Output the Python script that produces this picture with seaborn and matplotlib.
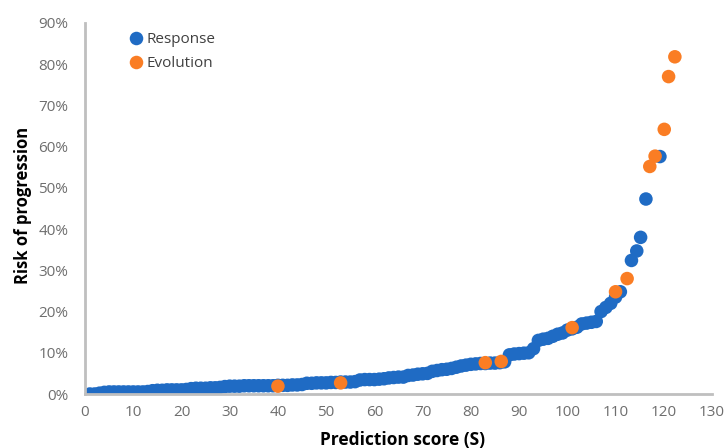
import matplotlib
matplotlib.use("Agg")
import matplotlib.pyplot as plt
from matplotlib.ticker import FuncFormatter, MultipleLocator
import pandas as pd
import seaborn as sns

# Response group: prediction score S and risk of progression (%)
response_score = [
    1, 2, 3, 4, 5, 6, 7, 8, 9, 10, 11, 12, 13, 14, 15, 16, 17, 18, 19, 20,
    21, 22, 23, 24, 25, 26, 27, 28, 29, 30, 31, 32, 33, 34, 35, 36, 37, 38, 39, 40,
    41, 42, 43, 44, 45, 46, 47, 48, 49, 50, 51, 52, 53, 54, 55, 56, 57, 58, 59, 60,
    61, 62, 63, 64, 65, 66, 67, 68, 69, 70, 71, 72, 73, 74, 75, 76, 77, 78, 79, 80,
    81, 82, 83, 84, 85, 86, 87, 88, 89, 90, 91, 92, 93, 94, 95, 96, 97, 98, 99, 100,
    101, 102, 103, 104, 105, 106, 107, 108, 109, 110, 111, 113.3, 114.4, 115.2, 116.3, 119.2,
]
response_risk = [
    0.0, 0.0, 0.2, 0.4, 0.5, 0.5, 0.5, 0.5, 0.5, 0.5, 0.5, 0.5, 0.6, 0.8, 0.9, 0.9, 1.0, 1.0, 1.0, 1.0,
    1.1, 1.3, 1.4, 1.4, 1.4, 1.5, 1.5, 1.6, 1.8, 1.9, 1.9, 1.9, 2.0, 2.0, 2.0, 2.0, 2.0, 2.0, 2.0, 2.1,
    2.1, 2.1, 2.2, 2.2, 2.3, 2.6, 2.6, 2.7, 2.7, 2.7, 2.8, 2.8, 2.9, 2.9, 2.9, 3.0, 3.4, 3.5, 3.5, 3.5,
    3.6, 3.7, 3.9, 4.0, 4.1, 4.1, 4.5, 4.6, 4.8, 4.9, 5.0, 5.5, 5.7, 5.9, 6.0, 6.2, 6.5, 6.8, 7.0, 7.2,
    7.3, 7.4, 7.4, 7.5, 7.5, 7.6, 7.8, 9.5, 9.7, 9.8, 9.9, 10.0, 11.0, 13.0, 13.3, 13.5, 14.0, 14.5, 14.8, 15.5,
    15.8, 16.2, 17.0, 17.2, 17.4, 17.6, 20.0, 21.0, 22.0, 23.5, 24.8, 32.4, 34.7, 38.0, 47.3, 57.6,
]

# Evolution group
evolution_score = [40, 53, 83, 86.3, 101, 110, 112.4, 117.1, 118.2, 120.1, 121, 122.3]
evolution_risk = [1.9, 2.7, 7.6, 7.9, 16.1, 24.8, 28.0, 55.2, 57.7, 64.2, 77.0, 81.8]

groups = ["Response", "Evolution"]
palette = {"Response": "#1F6BC4", "Evolution": "#FA7D24"}

df = pd.DataFrame({
    "score": response_score + evolution_score,
    "risk": [r / 100 for r in response_risk + evolution_risk],
    "group": ["Response"] * len(response_score) + ["Evolution"] * len(evolution_score),
})

sns.set_theme(style="white")
plt.rcParams["font.family"] = ["Open Sans", "DejaVu Sans"]

fig = plt.figure(figsize=(7.26, 4.48), dpi=100)
ax = fig.add_axes([85 / 726, 1 - 394 / 448, 627 / 726, 371 / 448])

sns.scatterplot(
    data=df, x="score", y="risk", hue="group", hue_order=groups,
    palette=palette, s=95, linewidth=0, alpha=1.0, ax=ax, legend=True,
)

ax.set_xlim(0, 130)
ax.set_ylim(0, 0.9)
ax.xaxis.set_major_locator(MultipleLocator(10))
ax.yaxis.set_major_locator(MultipleLocator(0.1))
ax.yaxis.set_major_formatter(FuncFormatter(lambda v, _: f"{v * 100:.0f}%"))

for side in ("top", "right"):
    ax.spines[side].set_visible(False)
for side in ("left", "bottom"):
    ax.spines[side].set_color("#BFBFBF")
    ax.spines[side].set_linewidth(2.0)

ax.tick_params(axis="both", length=0, labelsize=11, labelcolor="#6E6E6E")
ax.tick_params(axis="x", pad=8)
ax.tick_params(axis="y", pad=12)

ax.set_xlabel("Prediction score (S)", fontsize=12.5, fontweight="bold", color="black")
ax.set_ylabel("Risk of progression", fontsize=12, fontweight="bold", color="black")
ax.xaxis.set_label_coords(0.506, -0.1)
ax.yaxis.set_label_coords(-0.085, 0.507)

leg = ax.legend(
    loc="upper left", bbox_to_anchor=(0.055, 1.0), frameon=False,
    fontsize=11, handlelength=1.0, handletextpad=0.15, labelspacing=0.6,
    markerscale=1.0, borderaxespad=0.2,
)
for txt in leg.get_texts():
    txt.set_color("#404040")

fig.savefig("out.png", dpi=100)
